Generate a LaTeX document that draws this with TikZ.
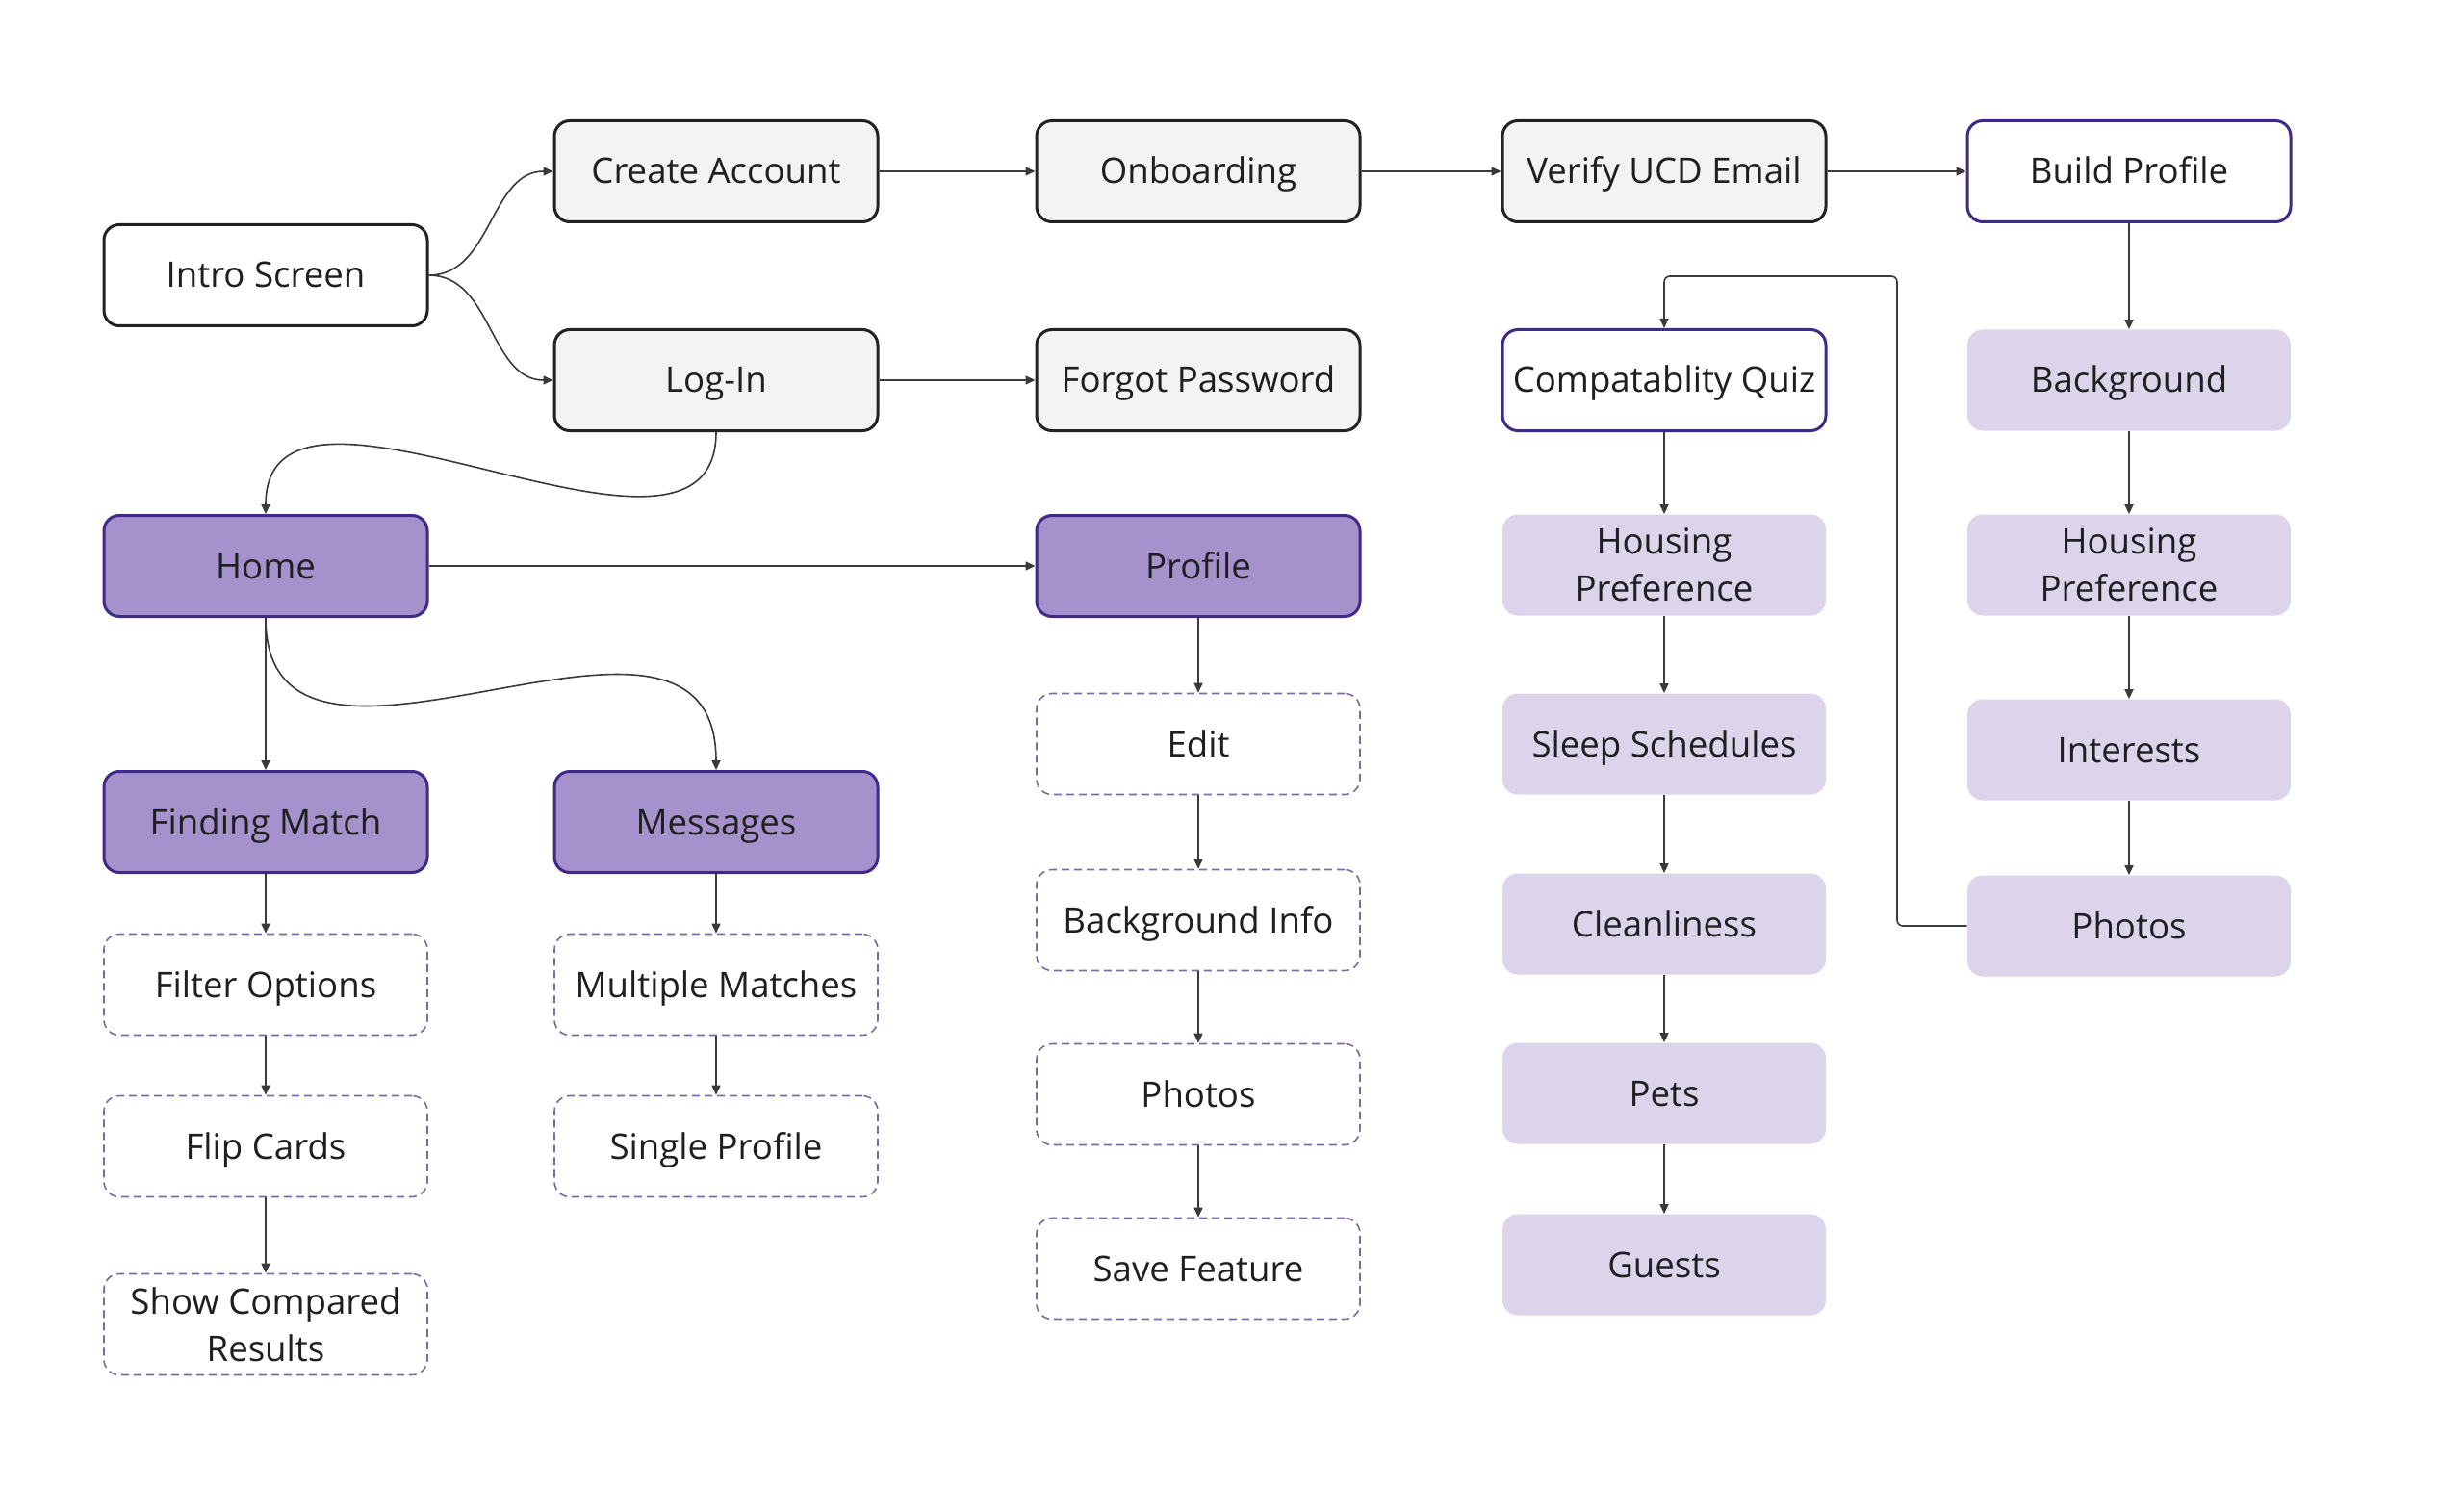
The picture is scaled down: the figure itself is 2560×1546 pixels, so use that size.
\documentclass[tikz,border=0pt]{standalone}
\usepackage{fontspec}
\setmainfont{Open Sans}
\usetikzlibrary{positioning,arrows.meta}

\definecolor{boxgray}{HTML}{F3F3F3}
\definecolor{edgedark}{HTML}{222222}
\definecolor{deeppurple}{HTML}{3F2A8A}
\definecolor{midpurple}{HTML}{A591CC}
\definecolor{palepurple}{HTML}{DCD4EB}
\definecolor{dashpurple}{HTML}{7A6AA6}
\definecolor{linegray}{HTML}{3A3A3A}

\begin{document}
\begin{tikzpicture}[x=0.5pt,y=0.5pt,yscale=-1,
  base/.style={rounded corners=8pt,minimum width=168pt,minimum height=52.5pt,inner sep=0pt,
    align=center,font=\fontsize{18.3}{24.5}\selectfont,text=black!88,
    text height=13pt,text depth=0pt},
  twoline/.style={text height={},text depth={}},
  plainbox/.style={base,draw=edgedark,line width=1.5pt,fill=white},
  graybox/.style={base,draw=edgedark,line width=1.5pt,fill=boxgray},
  outlinebox/.style={base,draw=deeppurple,line width=1.5pt,fill=white},
  mainbox/.style={base,draw=deeppurple,line width=1.5pt,fill=midpurple},
  softbox/.style={base,fill=palepurple},
  dashbox/.style={base,draw=dashpurple,dash pattern=on 4pt off 2.5pt,line width=0.8pt,fill=white},
  link/.style={draw=linegray,line width=0.8pt,-{Triangle[length=5pt,width=4.5pt]}}]
\useasboundingbox[fill=white] (0,0) rectangle (2560,1546);

% Nodes: sign-up row
\node[plainbox] (intro) at (276,286) {Intro Screen};
\node[graybox] (create) at (744,178) {Create Account};
\node[graybox] (onboard) at (1245,178) {Onboarding};
\node[graybox] (verify) at (1729,178) {Verify UCD Email};
\node[outlinebox] (build) at (2212,178) {Build Profile};
\node[graybox] (login) at (744,395) {Log-In};
\node[graybox] (forgot) at (1245,395) {Forgot Password};

% Nodes: main screens
\node[mainbox] (home) at (276,588) {Home};
\node[mainbox] (profile) at (1245,588) {Profile};
\node[mainbox] (finding) at (276,854) {Finding Match};
\node[mainbox] (messages) at (744,854) {Messages};

% Nodes: dashed sub-screens
\node[dashbox] (filter) at (276,1023) {Filter Options};
\node[dashbox] (flip) at (276,1191) {Flip Cards};
\node[dashbox,twoline] (compared) at (276,1376) {Show Compared\\Results};
\node[dashbox] (multiple) at (744,1023) {Multiple Matches};
\node[dashbox] (single) at (744,1191) {Single Profile};
\node[dashbox] (edit) at (1245,773) {Edit};
\node[dashbox] (bginfo) at (1245,956) {Background Info};
\node[dashbox] (photop) at (1245,1137) {Photos};
\node[dashbox] (save) at (1245,1318) {Save Feature};

% Nodes: quiz column
\node[outlinebox] (compat) at (1729,395) {Compatablity Quiz};
\node[softbox,twoline] (houseq) at (1729,587) {Housing\\Preference};
\node[softbox] (sleep) at (1729,773) {Sleep Schedules};
\node[softbox] (clean) at (1729,960) {Cleanliness};
\node[softbox] (pets) at (1729,1136) {Pets};
\node[softbox] (guests) at (1729,1314) {Guests};

% Nodes: profile build column
\node[softbox] (bgd) at (2212,395) {Background};
\node[softbox,twoline] (houseb) at (2212,587) {Housing\\Preference};
\node[softbox] (interests) at (2212,779) {Interests};
\node[softbox] (photob) at (2212,962) {Photos};

\coordinate (bend) at (1971,287);

% Curved links
\draw[link] (intro.east) to[out=0,in=180] (create.west);
\draw[link] (intro.east) to[out=0,in=180] (login.west);
\draw[link] (login.south) .. controls +(0,192) and +(0,-195) .. (home.north);
\draw[link] (home.south) .. controls +(0,234) and +(0,-241) .. (messages.north);

% Straight links
\draw[link] (create) -- (onboard);
\draw[link] (onboard) -- (verify);
\draw[link] (verify) -- (build);
\draw[link] (login) -- (forgot);
\draw[link] (home) -- (profile);
\draw[link] (home) -- (finding);
\draw[link] (finding) -- (filter);
\draw[link] (filter) -- (flip);
\draw[link] (flip) -- (compared);
\draw[link] (messages) -- (multiple);
\draw[link] (multiple) -- (single);
\draw[link] (profile) -- (edit);
\draw[link] (edit) -- (bginfo);
\draw[link] (bginfo) -- (photop);
\draw[link] (photop) -- (save);
\draw[link] (compat) -- (houseq);
\draw[link] (houseq) -- (sleep);
\draw[link] (sleep) -- (clean);
\draw[link] (clean) -- (pets);
\draw[link] (pets) -- (guests);
\draw[link] (build) -- (bgd);
\draw[link] (bgd) -- (houseb);
\draw[link] (houseb) -- (interests);
\draw[link] (interests) -- (photob);

% Elbow link back to quiz
\draw[link,rounded corners=3pt] (photob.west) -| (bend) -| (compat.north);

\end{tikzpicture}
\end{document}
